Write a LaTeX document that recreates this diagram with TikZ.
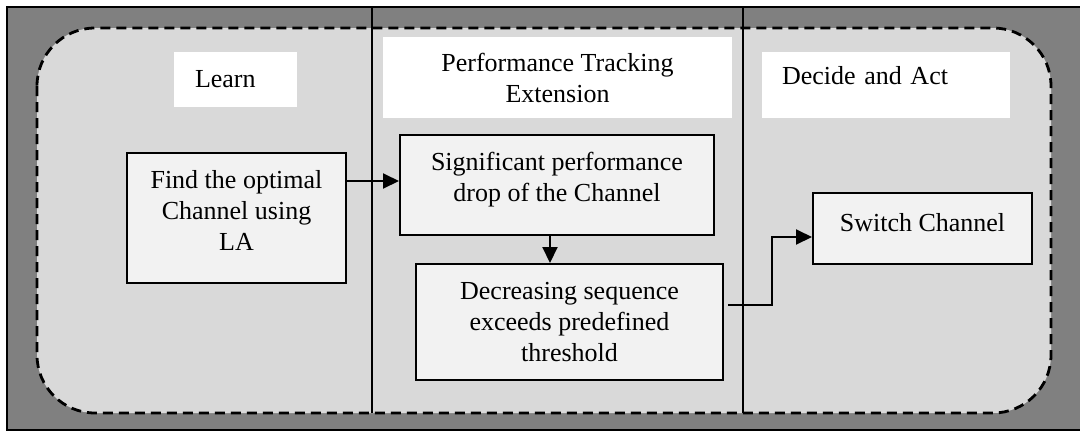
\documentclass[tikz,border=0pt]{standalone}
\usepackage{fontspec}
\setmainfont{Liberation Serif}
\usetikzlibrary{arrows.meta,positioning}
\definecolor{darkbg}{HTML}{808080}
\definecolor{lightbg}{HTML}{D9D9D9}
\definecolor{boxfill}{HTML}{F2F2F2}
\begin{document}
\begin{tikzpicture}[x=1pt, y=-1pt, font=\fontsize{26}{31}\selectfont,
		stage/.style = {fill=white, inner sep=0pt},
		proc/.style = {draw, line width=2pt, fill=boxfill, align=center, inner sep=0pt},
		flow/.style = {line width=2pt, -{Triangle[length=16pt,width=15pt]}}]
		\useasboundingbox (0,0) rectangle (1080,432);
		% background and the three columns
		\draw[line width=2pt, fill=darkbg] (7,7) rectangle (1084,430);
		\draw[line width=2.8pt, dash pattern=on 10pt off 6pt, fill=lightbg, rounded corners=58pt] (37,28) rectangle (1051,413);
		\draw[line width=1.3pt] (372,7) -- (372,413) (743,7) -- (743,413);
		% column titles
		\node[stage, minimum height=55pt, text width=81pt, inner xsep=21pt, align=left] (learn) at (235.5,79.5) {Learn};
		\node[stage, minimum width=349pt, minimum height=81pt, align=center] (track) at (557.5,77.5) {Performance Tracking\\Extension};
		\node[stage, minimum height=66pt, text width=208pt, inner xsep=20pt, align=left, text depth=20pt] (decide) at (886,85) {Decide and Act};
		% steps
		\node[proc, minimum width=219pt, minimum height=130pt] (find) at (236.5,218) {Find the optimal\\Channel using\\LA\rule[-16pt]{0pt}{0pt}};
		\node[proc, minimum width=314pt, minimum height=100pt] (drop) at (557,185) {Significant performance\\drop of the Channel\rule[-16pt]{0pt}{0pt}};
		\node[proc, minimum width=307pt, minimum height=116pt] (exceed) at (569.5,322) {Decreasing sequence\\exceeds predefined\\threshold};
		\node[proc, minimum width=219pt, minimum height=71pt, text depth=12pt] (switch) at (922.5,228.5) {Switch Channel};
		\draw[flow] ([yshift=37pt]find.east) coordinate (a) -- (a -| drop.west);
		\draw[flow] ([xshift=-7pt]drop.south) coordinate (b) -- (b |- exceed.north);
		\draw[flow] ([shift={(4pt,17pt)}]exceed.east) -- ++(44,0) |- ([yshift=-8.5pt]switch.west);
	\end{tikzpicture}
\end{document}
